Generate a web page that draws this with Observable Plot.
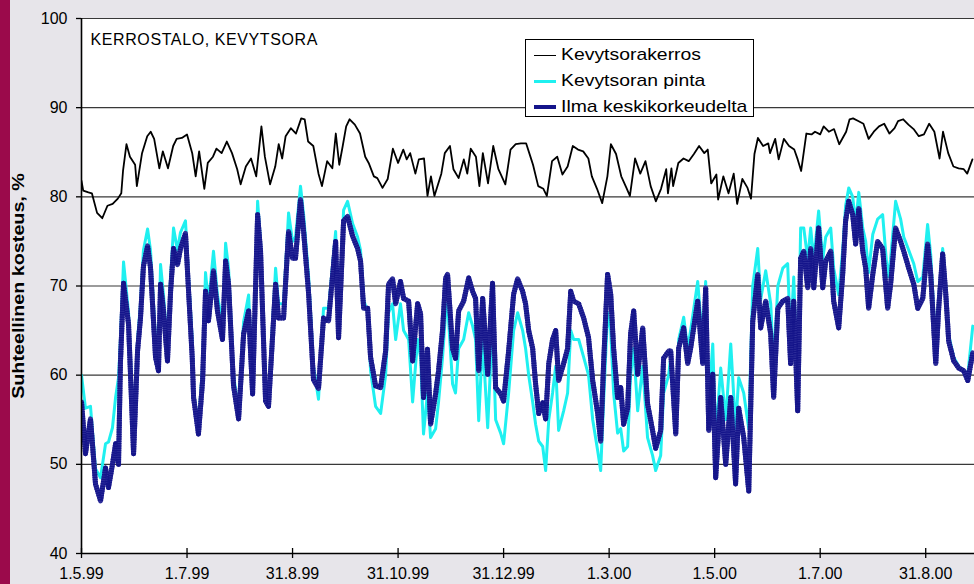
<!DOCTYPE html>
<html>
<head>
<meta charset="utf-8">
<script src="https://cdn.jsdelivr.net/npm/d3@7"></script>
<script src="https://cdn.jsdelivr.net/npm/@observablehq/plot@0.6"></script>
<style>
html,body{margin:0;padding:0;background:#e7e5ea;}
#wrap{position:relative;width:974px;height:584px;overflow:hidden;font-family:"Liberation Sans",Arial,sans-serif;}
#strip{position:absolute;left:0;top:0;width:10px;height:584px;background:#9b0a4b;}
#chart{position:absolute;left:0;top:0;}
#legend{position:absolute;left:525px;top:39px;width:229px;height:78px;background:#fff;border:1px solid #000;box-sizing:border-box;}
.row{position:absolute;left:0;width:227px;height:24px;}
.sw{position:absolute;left:8px;top:12px;width:22px;}
.lt{position:absolute;left:35px;top:1px;font-size:17px;line-height:22px;white-space:nowrap;color:#000;transform:scaleX(1.14);transform-origin:left center;}
</style>
</head>
<body>
<div id="wrap">
  <div id="strip"></div>
  <div id="chart"></div>
  <div id="legend"></div>
</div>
<script>
// ---- Data ----
const chartTitle = "KERROSTALO, KEVYTSORA";
const yTitle = "Suhteellinen kosteus, %";
const seriesNames = ["Kevytsorakerros", "Kevytsoran pinta", "Ilma keskikorkeudelta"];
const yTicks = [40, 50, 60, 70, 80, 90, 100];
const xTickDates = ["1999-05-01","1999-07-01","1999-08-31","1999-10-31","1999-12-31","2000-03-01","2000-05-01","2000-07-01","2000-08-31"];
const xTickLabels = ["1.5.99","1.7.99","31.8.99","31.10.99","31.12.99","1.3.00","1.5.00","1.7.00","31.8.00"];
const startDate = "1999-05-01";
const endDay = 516.2;

// Kevytsorakerros: day offset from 1.5.99 and RH %
const kerrosDays = [
  0,1,4,6,9,12,15,18,21,23,24,26,28,31,32,
  35,38,40,42,45,47,50,53,55,58,61,64,66,68,71,
  73,76,78,81,84,87,90,92,95,98,101,104,106,109,112,
  114,116,118,121,124,127,129,131,134,137,139,142,145,147,149,
  151,153,155,158,161,164,166,169,171,174,177,180,183,186,188,
  190,193,195,198,200,202,204,208,210,213,215,218,221,223,225,
  228,230,232,235,238,241,245,248,251,254,257,260,261,264,267,
  269,272,275,278,281,284,287,290,293,295,298,301,304,306,309,
  312,315,317,320,323,326,329,332,335,338,339,341,342,345,348,
  351,354,357,360,362,364,367,368,371,374,377,379,382,385,387,
  389,391,394,397,398,401,403,406,409,412,414,416,419,422,424,
  427,429,432,435,438,440,442,444,446,449,452,455,458,461,464,
  467,470,472,475,478,481,484,487,490,493,496,498,501,504,507,
  510,512,515
];
const kerrosRH = [
  81.8,80.7,80.5,80.4,78.2,77.6,79.0,79.2,79.8,80.4,82.9,85.9,84.5,83.6,81.2,
  84.9,86.8,87.3,86.5,83.2,85.1,83.2,85.7,86.5,86.6,87.0,84.9,82.3,85.1,80.9,
  83.8,84.5,85.4,84.9,86.2,84.9,83.1,81.4,83.4,84.3,82.3,87.9,84.5,81.4,83.4,
  85.9,84.3,86.8,87.7,87.1,88.8,88.7,86.2,85.7,82.6,81.2,84.0,83.2,87.1,83.6,
  85.7,87.9,88.7,88.1,87.1,84.5,83.8,82.3,82.1,81.0,82.0,85.4,83.8,85.3,84.2,
  84.9,82.6,84.2,84.3,80.1,82.3,80.1,82.6,84.9,85.7,83.1,82.1,84.2,82.6,85.4,
  84.5,81.2,84.9,81.5,85.7,83.1,81.4,85.3,85.9,86.0,86.0,84.2,83.6,81.2,80.9,
  80.1,84.0,84.5,82.5,83.4,85.7,85.3,85.1,84.3,82.3,80.9,79.3,82.3,85.9,84.8,
  82.3,81.0,80.1,84.3,82.6,84.0,81.2,79.5,80.9,83.1,80.4,83.2,81.2,83.8,84.3,
  84.0,84.8,85.7,84.9,85.3,81.5,82.5,79.7,82.3,80.4,82.6,79.2,82.0,81.0,79.8,
  84.8,86.6,85.7,86.0,84.9,86.5,84.2,86.5,85.7,85.3,84.2,82.9,87.1,87.0,87.3,
  87.0,87.9,87.3,87.6,85.9,86.6,87.3,88.7,88.8,88.5,88.2,86.5,87.3,87.9,88.2,
  87.1,87.7,88.5,88.7,88.1,87.6,86.8,87.0,88.2,87.3,84.3,87.3,84.9,83.4,83.2,
  83.1,82.6,84.2
];

// Kevytsoran pinta and Ilma keskikorkeudelta share these sample days
const obsDays = [
  0,2.3,5.2,8.1,11,13.9,15.6,17.9,19.7,21.4,22.5,24.3,27.2,30.1,32.4,
  34.1,35.8,38.2,39.9,42.8,44.5,45.7,47.4,49.7,51.5,53.2,55.5,57.2,60.1,61.9,
  64.0,64.8,67.6,70.0,71.7,73.4,76.3,78.6,81.5,83.3,85.0,87.9,90.8,93.7,96.6,
  98.9,101.8,103.5,106.4,108.1,112.2,113.9,116.8,119.7,122.0,123.7,126.6,128.4,131.3,134.1,
  137.0,139.9,142.8,146.9,148.6,151.5,153.8,156.7,159.6,161.3,163.1,165.4,167.1,170.0,172.9,
  175.8,177.5,179.8,181.6,184.4,186.2,189.1,191.4,194.3,196.0,197.7,200.0,201.8,204.7,206.4,
  208.7,210.5,211.6,214.5,216.2,218.0,220.9,223.8,226.1,227.8,229.6,231.9,234.8,237.6,239.4,
  242.3,244.0,246.9,249.8,252.1,255.0,256.7,258.5,260.8,262.5,264.3,266.6,268.3,270.1,272.3,
  274.1,275.8,278.7,281.0,282.8,284.5,287.4,290.3,293.1,295.5,298.4,300.1,301.8,304.1,305.9,
  307.6,309.9,311.7,313.4,315.7,317.4,319.2,321.5,324.4,327.2,330.1,331.9,334.8,336.5,339.4,
  340.6,343.5,345.2,348.1,350.4,352.1,356.2,359.1,360.8,362.6,364.9,366.6,369.5,372.4,375.3,
  378.1,379.9,382.8,385.7,388.0,390.9,392.6,395.5,398.4,400.1,402.5,405.4,408.2,409.9,411.7,
  414.0,415.7,417.5,419.8,421.5,423.3,426.1,428.5,430.2,433.1,434.8,437.7,440.0,441.7,443.5,
  445.8,447.5,449.3,451.6,453.3,455.0,457.4,460.2,463.1,466.0,467.7,470.6,473.5,475.3,478.2,
  481.1,483.4,486.3,489.1,490.9,493.8,495.5,497.8,499.6,501.3,504.2,507.1,510.0,512.3,515.2
];
const ilmaRH = [
  57,51.2,55.1,47.8,45.9,49.6,47.4,50.0,52.3,50.0,61.3,70.3,65.7,51.2,62.7,
  66.4,72.2,74.5,72.0,62,60.5,70.2,67.2,61.6,69.4,74.2,72.4,74.2,75.9,69.4,
  62,57.5,53.4,59.4,69.4,66.1,71.7,67.2,64.0,72.8,70.2,58.8,55.1,64.6,67.2,
  57.9,78.0,73.9,57.1,56.5,70.2,66.4,66.4,76.1,73.1,73.1,79.7,76.1,69.1,59.5,
  58.5,66.4,66.1,75.0,64.2,77.3,77.8,75.6,74.2,72.8,67.5,67.5,62,58.8,58.6,
  62.7,70.2,70.8,68.0,70.5,68.6,68.3,61.6,68.0,66.9,57.5,62.9,54.5,57.9,60.5,
  65,70.9,71.3,63.0,61.9,67.2,68.3,70.9,69.4,68.6,60.5,68.6,60.1,70.3,58.6,
  57.9,57.1,62.7,69.1,70.8,69.4,68.0,65,63.0,59.0,55.7,56.9,55.1,61.3,64,
  65,59.4,61.3,63,69.4,68.3,68.0,66.4,64.2,59.4,55.7,52.6,61.3,71.3,69.1,
  63.0,57.5,58.6,54.5,56.3,64.6,67.2,60.1,65.3,56.8,53.8,51.8,53.8,61.9,62.7,
  62.7,53.4,63.0,65.3,61.3,63.0,68.3,61.3,69.8,53.8,60.1,48.5,57.5,50.0,57.5,
  47.8,56.3,53.0,47.0,66,71.3,65.3,68.3,64.6,57.5,67.5,68.3,68.6,61.3,68.3,
  56.0,73.1,73.9,69.8,74.2,69.8,76.5,69.8,72.8,73.9,68.3,65.3,71.3,77.3,79.5,
  78.0,74.7,78.7,73.9,72.0,67.5,71.3,75.0,74.2,67.5,70.2,76.5,75.0,73.9,72.0,
  70.2,67.5,68.6,74.7,71.3,61.3,67.5,73.6,69.1,63.8,61.6,60.8,60.5,59.4,62.5
];
const pintaRH = [
  60,56.3,56.5,49.5,48.5,52.3,52.5,54.1,57.5,59.7,64,72.7,67,54,64,
  68,74,76.4,74,64,62,72.4,69,63,71,76.5,74,76,77.3,71,
  64,58,54.5,61,71.5,68,73.9,69,65.5,74.8,72,60,56,66,69,
  59,79.5,75,58,57.5,72,68,68,78.2,75,75.5,81.2,78,71,61,
  57.3,67.5,67.5,76.1,65.5,78.5,79.5,77,75.5,74,68.5,67,60.5,56.5,55.7,
  60,67,68,64,68,65,64,57,64,62,53.4,58,53.0,54,57,
  62,67,68,59,58,63,64,67,65.5,64,54.9,64,54.1,66,55,
  53.5,52.3,58,65,67,65,63,60,57,54.5,52.6,52,49.3,55,58,
  61,53.8,56,58,65,64,64,62,60,55,51.5,49.3,57,67,65,
  58,53.5,54,51.5,52,60,63,56,61,53,51,49.3,51,58,60,
  62,55,64,66.5,63,65,70.5,63.5,70.5,57,63.5,53,60.8,55,63.5,
  54,59.7,58,54,70,74.2,68.5,71.7,68,61,70,72,72.5,64,71,
  58,76.5,76.5,73,76.5,73,78.4,73,75.5,76.5,72,69,74,79,81,
  80,77,80.5,76.5,75,71.5,75.8,77.5,78,71,73,79.5,77.5,75.5,74,
  72.5,70.5,71,76.9,73.5,63,68.5,74.2,70,64.5,62,61,60.5,60,65.5
];

const colors = {kerros: "#000000", pinta: "#1ff0f0", ilma: "#14148a"};

// ---- Build ----
const t0 = Date.parse(startDate + "T00:00:00Z");
const toDate = d => new Date(t0 + d * 864e5);
const kerros = kerrosDays.map((d, i) => ({date: toDate(d), v: kerrosRH[i]}));
const ilma = obsDays.map((d, i) => ({date: toDate(d), v: ilmaRH[i]}));
const pinta = obsDays.map((d, i) => ({date: toDate(d), v: pintaRH[i]}));
const tickDates = xTickDates.map(s => new Date(s + "T00:00:00Z"));
const fmtX = d => xTickLabels[tickDates.findIndex(t => t.getTime() === +d)];

const chart = Plot.plot({
  width: 974,
  height: 584,
  marginLeft: 81,
  marginRight: 0,
  marginTop: 18,
  marginBottom: 31,
  style: {background: "transparent", fontFamily: "'Liberation Sans', Arial, sans-serif", fontSize: "16px", color: "#000", overflow: "visible"},
  x: {type: "utc", domain: [toDate(0), toDate(endDay)]},
  y: {domain: [40, 100]},
  marks: [
    Plot.frame({fill: "#ffffff", stroke: null}),
    Plot.gridY(yTicks.slice(1), {stroke: "#383838", strokeOpacity: 1, strokeWidth: 1.1}),
    Plot.line(pinta, {x: "date", y: "v", stroke: colors.pinta, strokeWidth: 3, clip: true}),
    Plot.line(ilma, {x: "date", y: "v", stroke: "#2e2e9a", strokeWidth: 5, clip: true}),
    Plot.line(ilma, {x: "date", y: "v", stroke: colors.ilma, strokeWidth: 5, strokeDasharray: "1.4,0.9", strokeLinecap: "butt", clip: true}),
    Plot.line(kerros, {x: "date", y: "v", stroke: colors.kerros, strokeWidth: 1.8, clip: true}),
    Plot.ruleX([toDate(0)], {stroke: "#000", strokeWidth: 1.6}),
    Plot.ruleY([40], {stroke: "#000", strokeWidth: 1.6}),
    Plot.ruleX(tickDates, {y1: 40, y2: 40, insetTop: -5, stroke: "#000", strokeWidth: 1.3}),
    Plot.axisY({ticks: yTicks, tickSize: 5, tickPadding: 9, fontSize: 16, tickFormat: d => String(d), label: null, strokeWidth: 1.3}),
    Plot.axisX({ticks: tickDates, tickSize: 5, tickPadding: 9, fontSize: 16, tickFormat: fmtX, label: null, strokeWidth: 1.3}),
    Plot.text([chartTitle], {frameAnchor: "top-left", dx: 9, dy: 15, fontSize: 16, textAnchor: "start", lineAnchor: "top", ariaLabel: "chart-title"}),
    Plot.text([yTitle], {frameAnchor: "left", dx: -63, rotate: -90, fontSize: 17, fontWeight: "bold", textAnchor: "middle", lineAnchor: "middle", ariaLabel: "y-title"})
  ]
});
document.getElementById("chart").appendChild(chart);

// stretch texts along their baseline like the original scanned chart
d3.select(chart).selectAll("text").each(function() {
  const t = this.textContent;
  if (t === yTitle) {
    const tr = this.getAttribute("transform") || "";
    this.setAttribute("transform", tr + " scale(1.16,1)");
  } else if (t === chartTitle) {
    this.setAttribute("letter-spacing", "0.6");
  }
});

// ---- Legend ----
const legend = document.getElementById("legend");
const swatch = [
  {name: seriesNames[0], color: colors.kerros, w: 1},
  {name: seriesNames[1], color: colors.pinta, w: 3},
  {name: seriesNames[2], color: colors.ilma, w: 4}
];
const rowTops = [3, 29, 55];
swatch.forEach((s, i) => {
  const row = document.createElement("div");
  row.className = "row";
  row.style.top = rowTops[i] + "px";
  const sw = document.createElement("div");
  sw.className = "sw";
  sw.style.height = s.w + "px";
  sw.style.marginTop = (-s.w / 2) + "px";
  sw.style.background = s.color;
  const lt = document.createElement("div");
  lt.className = "lt";
  lt.textContent = s.name;
  row.appendChild(sw);
  row.appendChild(lt);
  legend.appendChild(row);
});
</script>
</body>
</html>
